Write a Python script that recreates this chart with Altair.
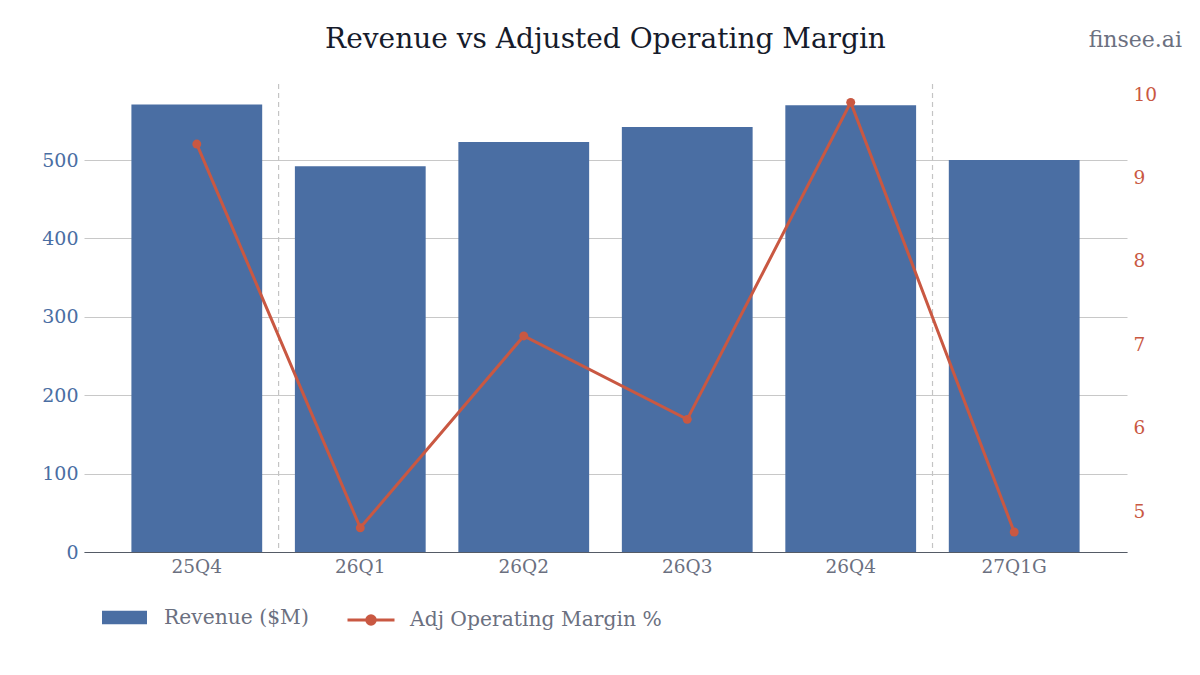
import altair as alt
import pandas as pd

quarters = ["25Q4", "26Q1", "26Q2", "26Q3", "26Q4", "27Q1G"]
revenue = [571, 492, 523, 542, 570, 500]
margin = [9.40, 4.80, 7.10, 6.10, 9.90, 4.75]
separators = ["25Q4", "26Q4"]
title_text = "Revenue vs Adjusted Operating Margin"
brand_text = "finsee.ai"

BAR = "#4a6ea3"
LINE = "#c95842"
FONT = "DejaVu Serif"

df = pd.DataFrame({"quarter": quarters, "revenue": revenue, "margin": margin})
df["s1"] = "Revenue ($M)"
df["s2"] = "Adj Operating Margin %"
sep_df = pd.DataFrame({"quarter": separators})

W, H = 1043, 468
xscale = alt.Scale(domain=quarters, paddingInner=0.2, paddingOuter=0.29)
xenc = alt.X("quarter:N", scale=xscale, sort=quarters,
             axis=alt.Axis(title=None, labelAngle=0, labelColor="#6b7080", labelFontSize=18.5,
                           labelFont=FONT, ticks=False, domainColor="#555b66", domainWidth=1.2,
                           labelPadding=5, grid=False))

base = alt.Chart(df)

bars = base.mark_bar(color=BAR).encode(
    x=xenc,
    y=alt.Y("revenue:Q", scale=alt.Scale(domain=[0, 597], nice=False),
            axis=alt.Axis(title=None, values=[0, 100, 200, 300, 400, 500], labelColor=BAR,
                          labelFontSize=19, labelFont=FONT, ticks=False, domain=False,
                          grid=True, gridColor="#c8c8c8", gridWidth=1, labelPadding=6)),
    fill=alt.Fill("s1:N", scale=alt.Scale(domain=["Revenue ($M)"], range=[BAR]),
                  legend=alt.Legend(title=None, orient="none", legendX=18, legendY=511,
                                    symbolType="M-1,-0.3L1,-0.3L1,0.3L-1,0.3Z", symbolSize=2025,
                                    symbolStrokeWidth=0, labelFontSize=20.3, labelFont=FONT,
                                    labelColor="#6b7080", labelOffset=17, labelLimit=400)),
)

rules = alt.Chart(sep_df).mark_rule(color="#c4c4c4", strokeDash=[5, 4], strokeWidth=1.2, xOffset=16.4).encode(
    x=alt.X("quarter:N", scale=xscale, sort=quarters, bandPosition=1)
)

yr = alt.Y("margin:Q", scale=alt.Scale(domain=[4.51, 10.12], nice=False),
           axis=alt.Axis(title=None, orient="right", values=[5, 6, 7, 8, 9, 10], labelColor=LINE,
                         labelFontSize=18.5, labelFont=FONT, ticks=False, domain=False, grid=False,
                         labelPadding=6))

line = base.mark_line(strokeWidth=3, color=LINE).encode(
    x=alt.X("quarter:N", scale=xscale, sort=quarters),
    y=yr,
    stroke=alt.Stroke("s2:N", scale=alt.Scale(domain=["Adj Operating Margin %"], range=[LINE]),
                      legend=alt.Legend(title=None, orient="none", legendX=262, legendY=511,
                                        symbolType="M-1,0L1,0M-0.18,0A0.18,0.18 0 1,1 0.18,0A0.18,0.18 0 1,1 -0.18,0",
                                        symbolSize=2209, symbolStrokeWidth=3, symbolFillColor=LINE,
                                        labelFontSize=20.3, labelFont=FONT, labelColor="#6b7080",
                                        labelOffset=14, labelLimit=400)),
)
pts = base.mark_circle(size=80, color=LINE, opacity=1).encode(
    x=alt.X("quarter:N", scale=xscale, sort=quarters),
    y=yr,
)

title = alt.Chart(pd.DataFrame({"t": [title_text]})).mark_text(
    align="center", baseline="alphabetic", fontSize=28, font=FONT, color="#161b2b"
).encode(text="t:N", x=alt.value(W / 2), y=alt.value(-36))

brand = alt.Chart(pd.DataFrame({"t": [brand_text]})).mark_text(
    align="right", baseline="alphabetic", fontSize=22, font=FONT, color="#6b7080"
).encode(text="t:N", x=alt.value(1098), y=alt.value(-37))

left = alt.layer(bars, rules)
right = alt.layer(line, pts)

chart = alt.layer(left, right, title, brand).resolve_scale(
    y="independent", fill="independent", stroke="independent"
).properties(
    width=W, height=H,
    autosize=alt.AutoSizeParams(type="none"),
    padding={"left": 76, "top": 76, "right": 57, "bottom": 115},
).configure(font=FONT).configure_view(strokeOpacity=0, strokeWidth=0)

chart.save("out.html", embed_options={"renderer": "svg", "actions": False})
